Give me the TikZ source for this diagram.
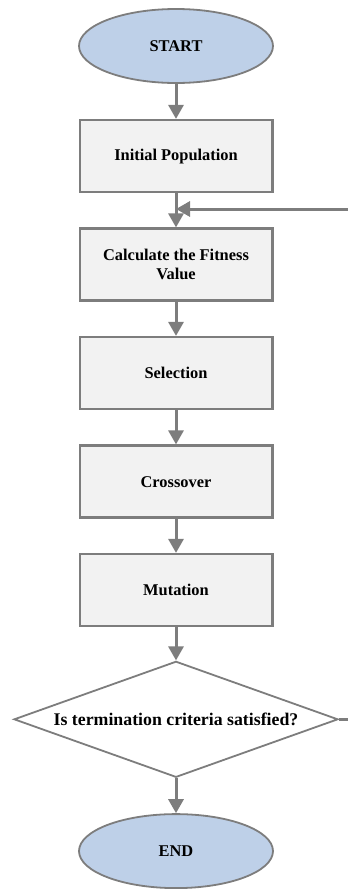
\documentclass[tikz,border=0pt]{standalone}
\usepackage{fontspec}
\setmainfont{Liberation Serif}
\usetikzlibrary{shapes.geometric,arrows.meta,positioning}

\definecolor{lineGray}{RGB}{125,125,125}
\definecolor{boxFill}{RGB}{242,242,242}
\definecolor{termFill}{RGB}{190,208,232}

\tikzset{
  term/.style={ellipse, draw=lineGray, line width=1.8pt, fill=termFill,
    minimum width=194pt, minimum height=74pt,
    font=\bfseries\fontsize{16.4}{19}\selectfont},
  proc/.style={rectangle, draw=lineGray, line width=2.5pt, fill=boxFill,
    minimum width=192.5pt, minimum height=72pt, align=center,
    font=\bfseries\fontsize{16.4}{19}\selectfont},
  decide/.style={diamond, draw=lineGray, line width=1.8pt, fill=white,
    minimum width=324pt, minimum height=116pt, aspect=2.76, inner sep=0pt,
    font=\bfseries\fontsize{17.8}{21}\selectfont},
  flow/.style={->, draw=lineGray, line width=3pt},
  >={Triangle[width=15pt,length=14pt]}
}

\begin{document}
\begin{tikzpicture}[x=1pt,y=-1pt]
\useasboundingbox (0,0) rectangle (348,889);

% to place the flow chart nodes
\node [term] (start) at (176,46) {START};
\node [proc, below=35pt of start] (init) {Initial Population};
\node [proc, below=34pt of init] (fitness) {Calculate the Fitness\\Value};
\node [proc, below=34pt of fitness] (select) {Selection};
\node [proc, below=34pt of select] (cross) {Crossover};
\node [proc, below=34pt of cross] (mutate) {Mutation};
\node [decide, below=33pt of mutate] (check) {Is termination criteria satisfied?};
\node [term, below=35pt of check] (stop) {END};

% loop ends at the edge of the picture
\coordinate (loopin) at (348,209);

% to draw the arrows
\draw [flow] (start) -- (init);
\draw [flow] (init) -- (fitness);
\draw [flow] (fitness) -- (select);
\draw [flow] (select) -- (cross);
\draw [flow] (cross) -- (mutate);
\draw [flow] (mutate) -- (check);
\draw [flow] (check) -- (stop);
\draw [flow] (loopin) -- (init.south |- loopin);
\draw [draw=lineGray, line width=3pt] (check.east) -- (check.east -| loopin);
\end{tikzpicture}
\end{document}
